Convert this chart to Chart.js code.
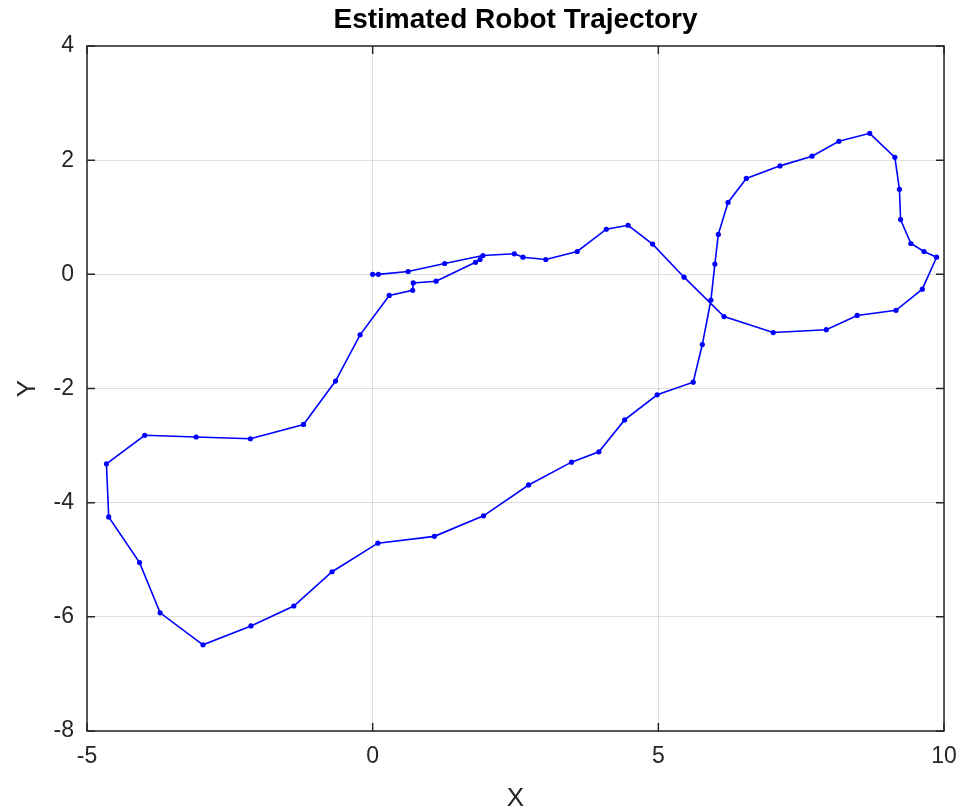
<!DOCTYPE html>
<html>
<head>
<meta charset="utf-8">
<title>Estimated Robot Trajectory</title>
<script src="https://cdn.jsdelivr.net/npm/chart.js@4.4.1/dist/chart.umd.min.js"></script>
<style>
  html, body { margin: 0; padding: 0; background: #fff; }
  #wrap { width: 963px; height: 812px; }
</style>
</head>
<body>
<div id="wrap"><canvas id="traj"></canvas></div>
<script>
// estimated pose positions, in order along the path
const trajX = [
    0.00, 0.10, 0.62, 1.26, 1.93, 2.48, 2.63, 3.03, 3.58, 4.09, 4.47, 4.90,
    5.45, 6.15, 7.01, 7.94, 8.48, 9.16, 9.62, 9.87, 9.65, 9.42, 9.24, 9.22,
    9.14, 8.70, 8.16, 7.69, 7.13, 6.54, 6.22, 6.05, 5.99, 5.92, 5.77, 5.61,
    4.98, 4.41, 3.96, 3.48, 2.73, 1.94, 1.08, 0.09, -0.71, -1.38, -2.13, -2.97,
    -3.72, -4.08, -4.62, -4.66, -3.99, -3.09, -2.14, -1.21, -0.65, -0.22, 0.29, 0.70,
    0.71, 1.11, 1.80, 1.88
];
const trajY = [
    0.00, 0.00, 0.05, 0.19, 0.33, 0.36, 0.30, 0.26, 0.40, 0.79, 0.86, 0.53,
    -0.05, -0.74, -1.02, -0.97, -0.72, -0.63, -0.26, 0.30, 0.40, 0.54, 0.96, 1.49,
    2.05, 2.47, 2.33, 2.07, 1.90, 1.68, 1.26, 0.70, 0.18, -0.45, -1.23, -1.89,
    -2.11, -2.55, -3.11, -3.29, -3.69, -4.23, -4.59, -4.71, -5.21, -5.81, -6.16, -6.49,
    -5.93, -5.05, -4.25, -3.32, -2.82, -2.85, -2.88, -2.63, -1.87, -1.06, -0.37, -0.28,
    -0.15, -0.12, 0.21, 0.26
];
const xTicks = [-5, 0, 5, 10];
const yTicks = [-8, -6, -4, -2, 0, 2, 4];

const axisColor = '#262626';
const fontFamily = '"Liberation Sans", Arial, Helvetica, sans-serif';

// box around the axes with small inward tick marks on all four sides
const boxTicks = {
    id: 'boxTicks',
    afterDraw(chart) {
        const { ctx, chartArea: a, scales } = chart;
        const len = 8;
        ctx.save();
        ctx.strokeStyle = axisColor;
        ctx.lineWidth = 1.5;
        ctx.beginPath();
        xTicks.forEach(v => {
            const px = scales.x.getPixelForValue(v);
            ctx.moveTo(px, a.bottom); ctx.lineTo(px, a.bottom - len);
            ctx.moveTo(px, a.top); ctx.lineTo(px, a.top + len);
        });
        yTicks.forEach(v => {
            const py = scales.y.getPixelForValue(v);
            ctx.moveTo(a.left, py); ctx.lineTo(a.left + len, py);
            ctx.moveTo(a.right, py); ctx.lineTo(a.right - len, py);
        });
        ctx.stroke();
        ctx.strokeRect(a.left, a.top, a.right - a.left, a.bottom - a.top);
        ctx.restore();
    }
};

new Chart(document.getElementById('traj'), {
    type: 'scatter',
    data: {
        datasets: [{
            data: trajX.map((x, i) => ({ x: x, y: trajY[i] })),
            showLine: true,
            borderColor: '#0000ff',
            backgroundColor: '#0000ff',
            borderWidth: 1.6,
            pointRadius: 2.6,
            pointBorderWidth: 0,
            pointHoverRadius: 2.6,
            tension: 0
        }]
    },
    options: {
        responsive: true,
        maintainAspectRatio: false,
        animation: false,
        layout: { padding: { left: 0, right: 19, top: 0, bottom: 0 } },
        plugins: {
            legend: { display: false },
            tooltip: { enabled: false },
            title: {
                display: true,
                fullSize: false,
                text: 'Estimated Robot Trajectory',
                color: '#000',
                font: { family: fontFamily, size: 28, weight: 'bold' },
                padding: { top: 3, bottom: 9.4 }
            }
        },
        scales: {
            x: {
                type: 'linear',
                min: -5,
                max: 10,
                afterBuildTicks: s => { s.ticks = xTicks.map(v => ({ value: v })); },
                afterFit: s => {
                    s.height = 81;
                    s.paddingLeft = 0;
                    s.paddingRight = 0;
                },
                grid: { color: 'rgba(0,0,0,0.13)', drawTicks: false },
                border: { display: false },
                ticks: {
                    color: axisColor,
                    padding: 12,
                    maxRotation: 0,
                    font: { family: fontFamily, size: 23 }
                },
                title: {
                    display: true,
                    text: 'X',
                    color: axisColor,
                    font: { family: fontFamily, size: 26 },
                    padding: { top: 0, bottom: -2.6 }
                }
            },
            y: {
                type: 'linear',
                min: -8,
                max: 4,
                afterBuildTicks: s => { s.ticks = yTicks.map(v => ({ value: v })); },
                afterFit: s => {
                    s.width = 87;
                    s.paddingTop = 0;
                    s.paddingBottom = 0;
                },
                grid: { color: 'rgba(0,0,0,0.13)', drawTicks: false },
                border: { display: false },
                ticks: {
                    color: axisColor,
                    padding: 13,
                    font: { family: fontFamily, size: 23 }
                },
                title: {
                    display: true,
                    text: 'Y',
                    color: axisColor,
                    font: { family: fontFamily, size: 26 },
                    padding: { top: 12, bottom: 0 }
                }
            }
        }
    },
    plugins: [boxTicks]
});
</script>
</body>
</html>
